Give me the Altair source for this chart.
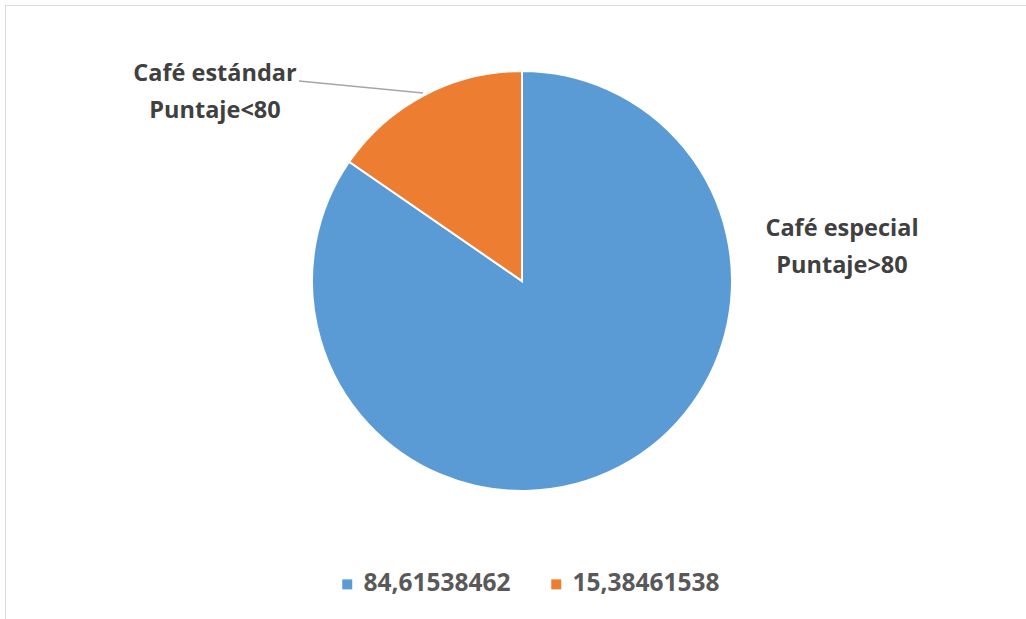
import altair as alt
import pandas as pd

# Data
values = [84.61538462, 15.38461538]
legend_labels = ["84,61538462", "15,38461538"]
categories = ["Café especial", "Café estándar"]
score_labels = ["Puntaje>80", "Puntaje<80"]
colors = ["#5B9BD5", "#ED7D31"]

df = pd.DataFrame({
    "value": values,
    "label": legend_labels,
    "order": [0, 1],
})

W, H = 1026, 619
CX, CY, R = 522, 281, 210
FONT = "Open Sans"

base = alt.Chart(df)

pie = base.mark_arc(radius=R, stroke="white", strokeWidth=2).encode(
    theta=alt.Theta("value:Q", stack=True),
    order=alt.Order("order:Q"),
    x=alt.value(CX),
    y=alt.value(CY),
    color=alt.Color(
        "label:N",
        scale=alt.Scale(domain=legend_labels, range=colors),
        legend=alt.Legend(
            title=None,
            orient="none",
            legendX=335,
            legendY=572,
            direction="horizontal",
            symbolType="square",
            symbolSize=100,
            symbolStrokeWidth=0,
            labelFont=FONT,
            labelFontSize=24.5,
            labelFontWeight="bold",
            labelColor="#595959",
            labelOffset=4,
            columnPadding=33,
        ),
    ),
)

lab_df1 = pd.DataFrame({"t": [[categories[0], score_labels[0]]]})
lab_df2 = pd.DataFrame({"t": [[categories[1], score_labels[1]]]})

label1 = alt.Chart(lab_df1).mark_text(
    font=FONT, fontSize=23.5, fontWeight="bold", color="#404040",
    align="center", baseline="middle", lineHeight=37,
).encode(text="t:N", x=alt.value(842), y=alt.value(229))

label2 = alt.Chart(lab_df2).mark_text(
    font=FONT, fontSize=23.5, fontWeight="bold", color="#404040",
    align="center", baseline="middle", lineHeight=37,
).encode(text="t:N", x=alt.value(215), y=alt.value(74))

leader = alt.Chart(df.head(1)).mark_rule(color="#A6A6A6", strokeWidth=1.3).encode(
    x=alt.value(299), y=alt.value(81), x2=alt.value(423), y2=alt.value(93)
)

frame_top = alt.Chart(df.head(1)).mark_rule(color="#D9D9D9", strokeWidth=1).encode(
    x=alt.value(5), x2=alt.value(W), y=alt.value(5.5)
)
frame_left = alt.Chart(df.head(1)).mark_rule(color="#D9D9D9", strokeWidth=1).encode(
    x=alt.value(5.5), y=alt.value(5), y2=alt.value(H)
)

chart = alt.layer(frame_top, frame_left, pie, leader, label1, label2).properties(
    width=W, height=H, padding=0, autosize=alt.AutoSizeParams(type="none"),
    background="white",
).configure_view(stroke=None)

chart.save("out.html", embed_options={"renderer": "svg", "actions": False})
